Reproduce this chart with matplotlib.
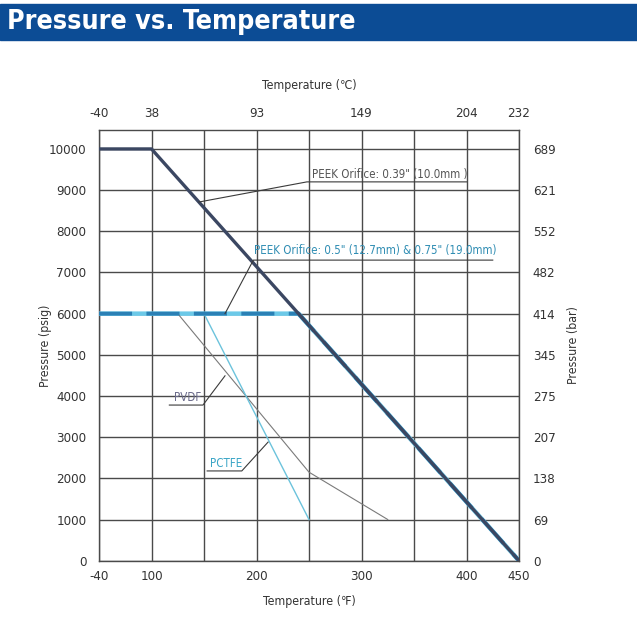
import numpy as np
import matplotlib
matplotlib.use("Agg")
import matplotlib.pyplot as plt
from matplotlib import font_manager as fm
from matplotlib.patches import Rectangle

names = {f.name for f in fm.fontManager.ttflist}
if "Liberation Sans Narrow" in names:
    FAM = ["Liberation Sans Narrow", "DejaVu Sans"]
    STRETCH = "normal"
else:
    FAM = ["DejaVu Sans"]
    STRETCH = "condensed"
plt.rcParams["font.family"] = FAM
plt.rcParams["font.stretch"] = STRETCH

# ---- data ----
grid_f = [-40, 100, 150, 200, 250, 300, 350, 400, 450]
bottom_ticks = [-40, 100, 200, 300, 400, 450]
bottom_labels = ["-40", "100", "200", "300", "400", "450"]
top_labels = ["-40", "38", "93", "149", "204", "232"]
psig_ticks = [0, 1000, 2000, 3000, 4000, 5000, 6000, 7000, 8000, 9000, 10000]
bar_labels = ["0", "69", "138", "207", "275", "345", "414", "482", "552", "621", "689"]

peek039_t = [-40, 100, 450]
peek039_p = [10000, 10000, 0]
peek05_t = [-40, 240, 450]
peek05_p = [6000, 6000, 0]
pvdf_t = [125, 250, 325]
pvdf_p = [6000, 2150, 1000]
pctfe_t = [150, 250]
pctfe_p = [6000, 1000]


def fwd(x):
    x = np.asarray(x, dtype=float)
    return np.where(x <= 100, (x + 40) / 140.0, 1 + (x - 100) / 50.0)


def inv(i):
    i = np.asarray(i, dtype=float)
    return np.where(i <= 1, -40 + 140 * i, 100 + 50 * (i - 1))


W, H = 637, 617
fig = plt.figure(figsize=(W / 100, H / 100), dpi=100)
ax = fig.add_axes([99 / W, 1 - 560.7 / H, 420 / W, 430.7 / H])

GRID = "#4a4a4a"
TXT = "#333333"
FS = 9.5
ax.set_xscale("function", functions=(fwd, inv))
ax.set_xlim(-40, 450)
ax.set_ylim(0, 10460)

ax.set_xticks(grid_f)
ax.set_xticklabels([str(v) if v in bottom_ticks else "" for v in grid_f])
ax.set_yticks(psig_ticks)
ax.set_yticklabels([str(v) for v in psig_ticks])
ax.grid(True, color=GRID, lw=1.0)
ax.tick_params(length=0, labelsize=FS, colors=TXT)
ax.tick_params(axis="y", pad=9)
ax.tick_params(axis="x", pad=7)
for s in ax.spines.values():
    s.set_color(GRID)
    s.set_linewidth(1.0)

# lines
ax.plot(peek05_t, peek05_p, color="#6cc9e8", lw=3.2, solid_capstyle="butt", zorder=3)
ax.plot(peek05_t, peek05_p, color="#2b80b5", lw=2.8, dashes=(8.5, 3.7), zorder=3.1)
ax.plot(peek039_t, peek039_p, color="#3b4762", lw=2.4, zorder=4, solid_capstyle="butt")
ax.plot(pvdf_t, pvdf_p, color="#7a7a7a", lw=0.8, zorder=3)
ax.plot(pctfe_t, pctfe_p, color="#6cc3dc", lw=1.0, zorder=3)

# annotations (leader lines + underlined labels)
LEAD = "#3a3a3a"
anns = [
    ("PEEK Orifice: 0.39\" (10.0mm )", [(145, 8710), (248, 9200), (400, 9200)], (253, 9390), "#555555"),
    ("PEEK Orifice: 0.5\" (12.7mm) & 0.75\" (19.0mm)", [(170, 6000), (197, 7300), (425, 7300)], (198, 7540), "#2f8db3"),
    ("PVDF", [(170, 4490), (149, 3780), (117, 3780)], (121, 3960), "#6a6a8a"),
    ("PCTFE", [(211, 2880), (186, 2180), (153, 2180)], (156, 2370), "#3aa5c6"),
]
for txt, pts, tpos, col in anns:
    xs = [p[0] for p in pts]
    ys = [p[1] for p in pts]
    ax.plot(xs, ys, color=LEAD, lw=0.8, zorder=5)
    ax.text(tpos[0], tpos[1], txt, color=col, fontsize=8.3, ha="left", va="center", zorder=6)

# top axis (Celsius)
axt = ax.twiny()
axt.set_xscale("function", functions=(fwd, inv))
axt.set_xlim(ax.get_xlim())
axt.set_xticks(bottom_ticks)
axt.set_xticklabels(top_labels)
axt.tick_params(length=0, labelsize=FS, colors=TXT, pad=7)
axt.set_xlabel("Temperature (\u2103)", fontsize=8.8, color=TXT, labelpad=13)
for s in axt.spines.values():
    s.set_visible(False)

# right axis (bar)
axr = ax.twinx()
axr.set_ylim(ax.get_ylim())
axr.set_yticks(psig_ticks)
axr.set_yticklabels(bar_labels)
axr.tick_params(length=0, labelsize=FS, colors=TXT, pad=10)
axr.set_ylabel("Pressure (bar)", fontsize=8.8, color=TXT, labelpad=8)
for s in axr.spines.values():
    s.set_visible(False)

ax.set_xlabel("Temperature (\u2109)", fontsize=8.8, color=TXT, labelpad=8.5)
ax.set_ylabel("Pressure (psig)", fontsize=8.8, color=TXT, labelpad=-2.5)

# title banner
fig.patches.append(Rectangle((0, 1 - 39.5 / H), 1, 35.5 / H, transform=fig.transFigure,
                             color="#0c4c95", zorder=0))
fig.text(7 / W, 1 - 22 / H, "Pressure vs. Temperature", color="white", fontsize=19.3,
         fontweight="bold", ha="left", va="center")

fig.savefig("out.png", dpi=100)
